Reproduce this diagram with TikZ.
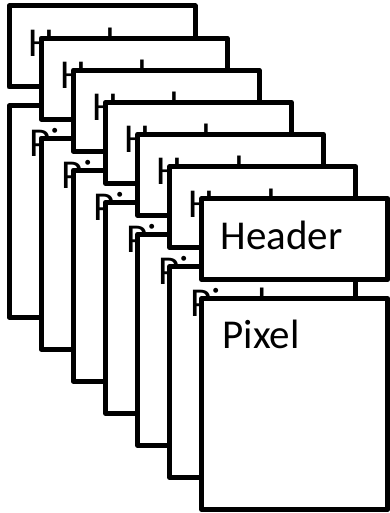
\documentclass[tikz,border=0pt]{standalone}
\usepackage{fontspec}
\setmainfont{Carlito}
\begin{document}
\begin{tikzpicture}[x=1pt,y=-1pt,
  frame/.style={draw=black, fill=white, line width=5pt, line join=round,
                outer sep=0pt, inner sep=0pt, anchor=north west},
  lbl/.style={anchor=base west, inner sep=0pt, outer sep=0pt,
              font=\fontsize{41}{49}\selectfont}]
\useasboundingbox (0,0) rectangle (390,513);
% stack of frames, back to front; each frame = header block + pixel block
\foreach \k in {0,...,6} {
  \pgfmathsetmacro\dx{32.12*\k}
  \pgfmathsetmacro\dy{32.1*\k}
  \begin{scope}[shift={(\dx,\dy)}]
    \node[frame, minimum width=186pt, minimum height=81pt] (hdr\k) at (9,6) {};
    \node[lbl] (htxt\k) at (28,56.5) {Header};
    \node[frame, minimum width=186pt, minimum height=211pt] (pix\k) at (9,106) {};
    \node[lbl] (ptxt\k) at (29.7,156.3) {Pixel};
  \end{scope}
}
\end{tikzpicture}
\end{document}
